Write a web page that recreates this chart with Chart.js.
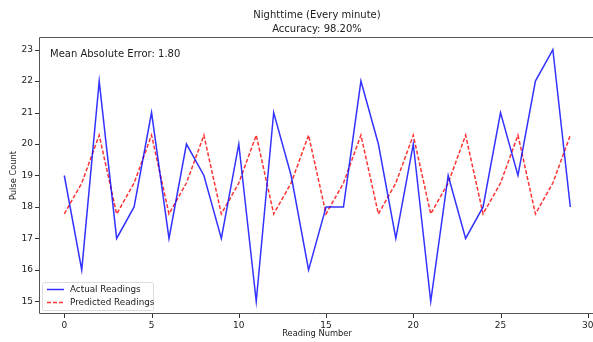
<!DOCTYPE html>
<html>
<head>
<meta charset="utf-8">
<script src="https://cdn.jsdelivr.net/npm/chart.js@4"></script>
<style>
  html, body { margin: 0; padding: 0; background: #fff; overflow: hidden; }
  #wrap { width: 593px; height: 342px; }
</style>
</head>
<body>
<div id="wrap"><canvas id="pulseChart" width="593" height="342"></canvas></div>
<script>
// readings
const readingNumbers = [0, 1, 2, 3, 4, 5, 6, 7, 8, 9, 10, 11, 12, 13, 14, 15, 16, 17, 18, 19, 20, 21, 22, 23, 24, 25, 26, 27, 28, 29];
const actualReadings = [19, 16, 22, 17, 18, 21, 17, 20, 19, 17, 20, 15, 21, 19, 16, 18, 18, 22, 20, 17, 20, 15, 19, 17, 18, 21, 19, 22, 23, 18];
const predictedReadings = [17.78, 18.76, 20.28, 17.78, 18.76, 20.28, 17.78, 18.76, 20.28, 17.78, 18.76, 20.28,
  17.78, 18.76, 20.28, 17.78, 18.76, 20.28, 17.78, 18.76, 20.28, 17.78, 18.76, 20.28, 17.78, 18.76, 20.28, 17.78, 18.76, 20.28];
const xTicks = [0, 5, 10, 15, 20, 25, 30];
const yTicks = [15, 16, 17, 18, 19, 20, 21, 22, 23];

const titleLines = ['Nighttime (Every minute)', 'Accuracy: 98.20%'];
const maeText = 'Mean Absolute Error: 1.80';

const FONT = '"DejaVu Sans", sans-serif';
const blue = 'rgba(0, 0, 255, 0.8)';
const red = 'rgba(255, 0, 0, 0.8)';

// matplotlib-like decorations: title, frame, tick marks, axis labels, text box, legend
const decorations = {
  id: 'decorations',
  afterDraw(chart) {
    const ctx = chart.ctx;
    const a = chart.chartArea;
    const xs = chart.scales.x, ys = chart.scales.y;
    ctx.save();
    ctx.fillStyle = '#222';
    ctx.textAlign = 'center';
    ctx.textBaseline = 'middle';
    ctx.font = '10px ' + FONT;
    ctx.fillText(titleLines[0], 317, 15);
    ctx.fillText(titleLines[1], 317, 29);

    // frame (the right side is cut off by the window in the original)
    ctx.strokeStyle = '#555';
    ctx.lineWidth = 1;
    ctx.beginPath();
    ctx.moveTo(a.right, a.top + 0.5);
    ctx.lineTo(a.left + 0.5, a.top + 0.5);
    ctx.lineTo(a.left + 0.5, a.bottom - 0.5);
    ctx.lineTo(a.right, a.bottom - 0.5);
    ctx.stroke();

    // tick marks
    ctx.strokeStyle = '#333';
    ctx.beginPath();
    xTicks.forEach(v => {
      const px = Math.round(xs.getPixelForValue(v)) + 0.5;
      ctx.moveTo(px, a.bottom);
      ctx.lineTo(px, a.bottom + 4);
    });
    yTicks.forEach(v => {
      const py = Math.round(ys.getPixelForValue(v)) + 0.5;
      ctx.moveTo(a.left, py);
      ctx.lineTo(a.left - 4, py);
    });
    ctx.stroke();

    // axis titles
    ctx.font = '8.3px ' + FONT;
    ctx.fillText('Reading Number', 317, 334);
    ctx.translate(14, (a.top + a.bottom) / 2);
    ctx.rotate(-Math.PI / 2);
    ctx.fillText('Pulse Count', 0, 0);
    ctx.setTransform(1, 0, 0, 1, 0, 0);

    // MAE text
    ctx.textAlign = 'left';
    ctx.font = '10px ' + FONT;
    ctx.fillText(maeText, 50, 54);

    // legend
    const lx = 42, ly = 282, lw = 111, lh = 28;
    ctx.fillStyle = 'rgba(255,255,255,0.85)';
    ctx.strokeStyle = '#ddd';
    ctx.beginPath();
    ctx.roundRect(lx + 0.5, ly + 0.5, lw, lh, 2);
    ctx.fill();
    ctx.stroke();
    const items = [
      { label: 'Actual Readings', color: blue, dash: [] },
      { label: 'Predicted Readings', color: red, dash: [4, 2] }
    ];
    ctx.font = '8.8px ' + FONT;
    items.forEach((it, i) => {
      const y = ly + 7.5 + i * 13;
      ctx.strokeStyle = it.color;
      ctx.lineWidth = 1.5;
      ctx.setLineDash(it.dash);
      ctx.beginPath();
      ctx.moveTo(lx + 5, y);
      ctx.lineTo(lx + 22, y);
      ctx.stroke();
      ctx.setLineDash([]);
      ctx.fillStyle = '#222';
      ctx.fillText(it.label, lx + 28, y);
    });
    ctx.restore();
  }
};

const ctx = document.getElementById('pulseChart').getContext('2d');
new Chart(ctx, {
  type: 'line',
  data: {
    datasets: [
      {
        label: 'Actual Readings',
        data: readingNumbers.map((x, i) => ({ x: x, y: actualReadings[i] })),
        borderColor: blue,
        borderWidth: 1.5,
        pointRadius: 0,
        tension: 0,
        fill: false
      },
      {
        label: 'Predicted Readings',
        data: readingNumbers.map((x, i) => ({ x: x, y: predictedReadings[i] })),
        borderColor: red,
        borderWidth: 1.5,
        borderDash: [4, 2],
        pointRadius: 0,
        tension: 0,
        fill: false
      }
    ]
  },
  options: {
    responsive: false,
    animation: false,
    layout: { padding: { left: 0, right: 0, top: 37, bottom: 0 } },
    plugins: {
      legend: { display: false },
      title: { display: false },
      tooltip: { enabled: false }
    },
    scales: {
      x: {
        type: 'linear',
        min: -1.45,
        max: 30.3,
        afterBuildTicks: (scale) => { scale.ticks = xTicks.map(v => ({ value: v })); },
        afterFit: (scale) => { scale.height = 28; scale.paddingLeft = 0; scale.paddingRight = 0; },
        grid: { display: false, drawTicks: true, tickLength: 4 },
        border: { display: false },
        ticks: { color: '#222', font: { family: FONT, size: 9 }, padding: 2, maxRotation: 0 }
      },
      y: {
        min: 14.6,
        max: 23.4,
        afterBuildTicks: (scale) => { scale.ticks = yTicks.map(v => ({ value: v })); },
        afterFit: (scale) => { scale.width = 39; scale.paddingTop = 0; scale.paddingBottom = 0; },
        grid: { display: false, drawTicks: true, tickLength: 4 },
        border: { display: false },
        ticks: { color: '#222', font: { family: FONT, size: 9 }, padding: 2 }
      }
    }
  },
  plugins: [decorations]
});
</script>
</body>
</html>
